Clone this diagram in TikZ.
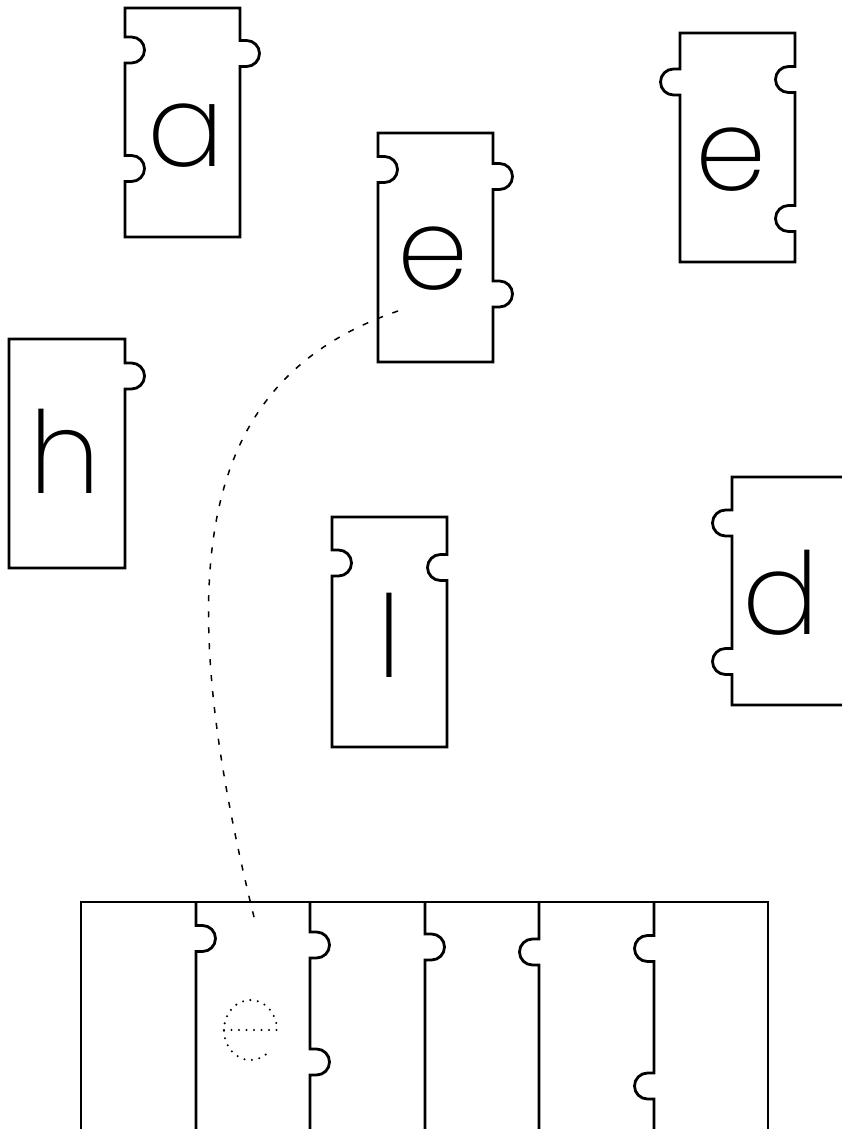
\documentclass[tikz,border=0pt]{standalone}
\usepackage{fontspec}
\IfFontExistsTF{Poppins ExtraLight}{\setmainfont{Poppins ExtraLight}}{%
 \IfFontExistsTF{Poppins Thin}{\setmainfont{Poppins Thin}}{%
  \IfFontExistsTF{Poppins Light}{\setmainfont{Poppins Light}}{\setmainfont{Poppins}}}}
\begin{document}
\begin{tikzpicture}[x=1pt,y=-1pt,
  piece/.style={draw=black,line width=2.8pt,line join=miter},
  letter/.style={anchor=base,inner sep=0pt,font=\fontsize{114}{114}\selectfont},
  notchD/.style n args={3}{insert path={-- (#1,{#2-13}) -- ++({(#3)*6.5},0)
     arc[start angle=-90,end angle={-90+(#3)*180},radius=13] -- ++({-(#3)*6.5},0)}},
  notchU/.style n args={3}{insert path={-- (#1,{#2+13}) -- ++({(#3)*6.5},0)
     arc[start angle=90,end angle={90-(#3)*180},radius=13] -- ++({-(#3)*6.5},0)}},
  link/.style={line width=1.5pt,dash pattern=on 6pt off 10pt},
  ghost/.style={line width=2.3pt,line cap=round,dash pattern=on 0pt off 7.5pt}]
\useasboundingbox (0,0) rectangle (842,1129);
\fill[white] (0,0) rectangle (842,1129);

% piece a
\draw[piece] (125,8) -- (240,8) [notchD={240}{53.5}{1}] -- (240,237) -- (125,237)
  [notchU={125}{168.5}{1}] [notchU={125}{50}{1}] -- cycle;
\node[letter] (ta) at (186,166) {a};

% piece e (middle)
\draw[piece] (378,133) -- (493,133) [notchD={493}{176.5}{1}] [notchD={493}{294}{1}]
  -- (493,362) -- (378,362) [notchU={378}{169.5}{1}] -- cycle;
\node[letter] (te) at (433,289) {e};

% piece e (top right)
\draw[piece] (680,33) -- (795,33) [notchD={795}{79.5}{-1}] [notchD={795}{218.5}{-1}]
  -- (795,262) -- (680,262) [notchU={680}{82}{-1}] -- cycle;
\node[letter] (te2) at (731,190) {e};

% piece h
\draw[piece] (9,339) -- (125,339) [notchD={125}{376}{1}] -- (125,568) -- (9,568) -- cycle;
\node[letter] (th) at (65,493) {h};

% piece l
\draw[piece] (332,517) -- (447,517) [notchD={447}{567.5}{-1}] -- (447,747) -- (332,747)
  [notchU={332}{563}{1}] -- cycle;
\node[letter] (tl) at (389,677) {l};

% piece d
\draw[piece] (732,477) -- (847,477) -- (847,705) -- (732,705)
  [notchU={732}{661.5}{-1}] [notchU={732}{523}{-1}] -- cycle;
\node[letter] (td) at (781,634) {d};

% bottom strip
\draw[piece] (81,1140) -- (81,902) -- (768,902) -- (768,1140);
\draw[piece] (196,902) [notchD={196}{938.5}{1}] -- (196,1140);
\draw[piece] (310,902) [notchD={310}{945}{1}] [notchD={310}{1062}{1}] -- (310,1140);
\draw[piece] (425,902) [notchD={425}{947}{1}] -- (425,1140);
\draw[piece] (539,902) [notchD={539}{952}{-1}] -- (539,1140);
\draw[piece] (654,902) [notchD={654}{948.5}{-1}] [notchD={654}{1086}{-1}] -- (654,1140);

% ghost e in the slot
\draw[ghost] (224,1030) -- (277,1030) arc[start angle=0,end angle=-314,x radius=26.5,y radius=30];

% dashed link
\coordinate (estart) at (398,311);
\coordinate (eend) at (256,925);
\draw[link] (estart) .. controls (199,379) and (166,566) .. (eend);
\end{tikzpicture}
\end{document}
